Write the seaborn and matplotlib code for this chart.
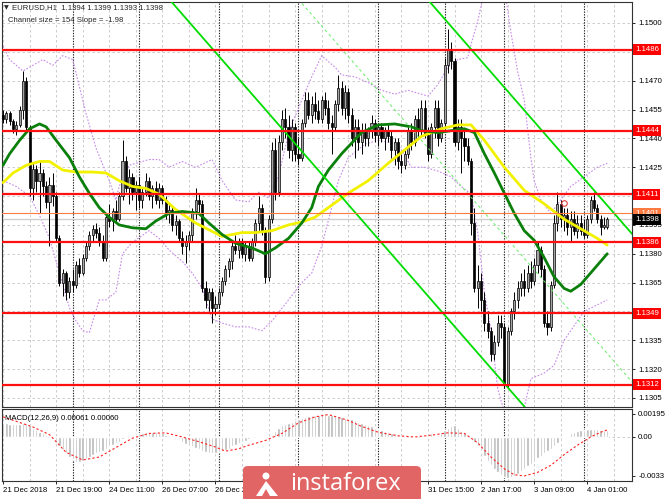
import numpy as np
import matplotlib
matplotlib.use("Agg")
import matplotlib.pyplot as plt
import matplotlib.transforms as mtransforms
from matplotlib.patches import FancyBboxPatch, Ellipse, Polygon
import seaborn as sns

# ── EURUSD H1 candles (points above 1.1300) ────────────────
BASE = 1.1300

opens = [152, 150, 153, 149, 145, 147, 155, 170, 146, 114,
         124, 118, 122, 115, 107, 116, 110, 88, 65, 70,
         60, 66, 64, 74, 70, 78, 84, 90, 93, 91,
         86, 78, 99, 97, 102, 98, 110, 128, 114, 120,
         112, 116, 108, 112, 118, 110, 114, 108, 114, 108,
         101, 103, 95, 97, 88, 84, 86, 90, 102, 108,
         106, 62, 56, 60, 52, 54, 60, 66, 72, 76,
         84, 82, 86, 80, 84, 78, 86, 96, 104, 92,
         68, 98, 134, 112, 138, 150, 146, 134, 146, 132,
         130, 148, 160, 152, 158, 154, 150, 160, 156, 148,
         146, 158, 166, 156, 164, 152, 140, 146, 138, 144,
         140, 144, 148, 142, 146, 140, 144, 141, 134, 138,
         128, 126, 132, 144, 138, 150, 144, 156, 142, 132,
         146, 156, 140, 148, 178, 186, 180, 138, 146, 140,
         136, 128, 96, 62, 66, 56, 44, 40, 28, 34,
         44, 42, 12, 40, 50, 56, 62, 66, 62, 70,
         66, 74, 82, 72, 44, 42, 64, 96, 106, 98,
         100, 94, 98, 92, 96, 92, 90, 98, 108, 104,
         98, 94, 94]
highs = [155, 154, 154, 150, 149, 157, 175, 172, 147, 127,
         126, 128, 124, 118, 120, 122, 112, 90, 72, 71,
         68, 72, 76, 78, 80, 86, 92, 95, 96, 94,
         90, 101, 106, 104, 108, 112, 139, 131, 124, 122,
         118, 120, 114, 122, 120, 116, 118, 117, 116, 110,
         106, 105, 100, 98, 92, 90, 92, 104, 114, 111,
         108, 66, 62, 62, 58, 62, 68, 74, 78, 86,
         90, 88, 88, 86, 86, 88, 98, 110, 106, 94,
         100, 138, 140, 142, 155, 156, 152, 150, 148, 140,
         150, 164, 164, 162, 164, 160, 162, 164, 160, 152,
         160, 173, 170, 168, 166, 156, 150, 150, 148, 148,
         146, 152, 150, 148, 148, 146, 148, 144, 140, 140,
         132, 134, 146, 148, 152, 156, 160, 160, 146, 148,
         160, 160, 150, 182, 197, 190, 182, 150, 150, 144,
         140, 130, 104, 74, 70, 60, 50, 42, 38, 48,
         48, 44, 42, 52, 60, 66, 70, 72, 74, 76,
         78, 86, 84, 74, 50, 66, 100, 112, 108, 104,
         104, 102, 102, 100, 100, 98, 100, 110, 112, 106,
         100, 99, 99]
lows = [148, 148, 147, 143, 142, 146, 150, 143, 110, 108,
        112, 101, 110, 104, 84, 105, 86, 63, 58, 56,
        57, 60, 62, 68, 69, 76, 82, 86, 88, 84,
        76, 76, 94, 92, 96, 97, 108, 112, 106, 108,
        103, 104, 104, 110, 108, 104, 106, 104, 106, 98,
        96, 92, 90, 86, 80, 75, 82, 86, 98, 100,
        60, 52, 50, 44, 48, 52, 58, 64, 68, 72,
        80, 78, 78, 76, 76, 76, 84, 92, 90, 65,
        66, 96, 108, 110, 134, 140, 130, 128, 128, 126,
        128, 146, 150, 148, 150, 148, 148, 152, 145, 132,
        144, 154, 152, 150, 148, 136, 130, 134, 132, 136,
        136, 140, 138, 136, 138, 134, 138, 130, 126, 124,
        122, 124, 130, 134, 136, 140, 142, 140, 128, 130,
        140, 136, 138, 146, 174, 176, 136, 134, 122, 128,
        126, 90, 60, 52, 50, 40, 36, 24, 25, 32,
        36, 10, 10, 38, 46, 52, 58, 58, 60, 62,
        64, 70, 68, 42, 38, 40, 62, 92, 94, 92,
        90, 86, 90, 88, 90, 88, 88, 96, 102, 96,
        90, 93, 93]
closes = [150, 153, 149, 145, 147, 155, 170, 146, 114, 124,
          118, 122, 115, 107, 116, 110, 88, 65, 70, 60,
          66, 64, 74, 70, 78, 84, 90, 93, 91, 86,
          78, 99, 97, 102, 98, 110, 128, 114, 120, 112,
          116, 108, 112, 118, 110, 114, 108, 114, 108, 101,
          103, 95, 97, 88, 84, 86, 90, 102, 108, 106,
          62, 56, 60, 52, 54, 60, 66, 72, 76, 84,
          82, 86, 80, 84, 78, 86, 96, 104, 92, 68,
          98, 134, 112, 138, 150, 146, 134, 146, 132, 130,
          148, 160, 152, 158, 154, 150, 160, 156, 148, 146,
          158, 166, 156, 164, 152, 140, 146, 138, 144, 140,
          144, 148, 142, 146, 140, 144, 141, 134, 138, 128,
          126, 132, 144, 138, 150, 144, 156, 142, 132, 146,
          156, 140, 148, 178, 186, 180, 138, 146, 140, 136,
          128, 96, 62, 66, 56, 44, 40, 28, 34, 44,
          42, 12, 40, 50, 56, 62, 66, 62, 70, 66,
          74, 82, 72, 44, 42, 64, 96, 106, 98, 100,
          94, 98, 92, 96, 92, 90, 98, 108, 104, 98,
          94, 95, 98]

# moving averages (bar index, points)
green_idx = [0, 2, 5, 8, 11, 13, 16, 20, 23, 26, 29, 32, 35, 39, 43, 46, 50, 54,
             59, 62, 66, 70, 75, 79, 82, 86, 90, 93, 95, 98, 102, 105, 108, 113,
             118, 123, 126, 131, 135, 139, 142, 145, 148, 151, 154, 157, 160, 163,
             166, 169, 171, 174, 177, 180, 182]
green_val = [126, 132, 139, 145, 147.5, 146, 139, 130, 120, 111.5, 104, 99, 95,
             93.5, 93, 97, 101, 102, 101, 96, 90, 85.5, 83, 80, 83, 88, 96, 104,
             115, 123.5, 132, 137.5, 143, 147, 147.5, 146, 144, 143, 144, 145, 143,
             132, 122, 111.5, 101, 92, 87, 78, 68, 62, 60.5, 64, 70, 76, 80]
yellow_idx = [0, 3, 7, 11, 14, 18, 22, 27, 31, 35, 39, 43, 47, 52, 58, 66, 72, 76,
              81, 86, 90, 94, 98, 104, 110, 116, 121, 126, 132, 137, 141, 145, 151,
              157, 163, 169, 175, 179, 182]
yellow_val = [117, 122, 126, 128, 128, 123.5, 122.5, 122.5, 122, 118, 115, 114,
              111, 103, 96, 89, 91, 91, 92, 95, 96.5, 99, 104, 111.5, 118, 127, 134,
              141, 145, 147, 147, 139, 125, 113, 106, 98, 92, 88, 84.5]

# bands (violet dotted)
upper_idx = [0, 2, 6, 9, 12, 15, 18, 21, 23, 25, 28, 32, 34, 35, 38, 44, 47, 50, 54,
             58, 63, 66, 70, 74, 77, 80, 83, 86, 90, 93, 96, 100, 102, 106, 110, 114,
             118, 122, 128, 131, 134, 137, 140, 141, 143, 146, 150, 153, 155, 157,
             159, 160, 162, 165, 168, 171, 175, 179, 182]
upper_val = [188, 181, 175, 178, 181, 178, 183, 181, 167, 153, 135, 118, 108, 115,
             126, 129, 129, 125, 128, 125, 129, 118, 108, 107, 112, 109, 120, 143,
             160, 172, 183, 177, 173, 172, 169, 165, 163, 165, 162, 168, 177, 181,
             182, 189, 201, 225, 230, 195, 175, 160, 130, 118, 108, 101, 108, 115,
             120, 125, 127]
lower_idx = [0, 4, 8, 11, 14, 17, 20, 22, 24, 26, 29, 31, 34, 36, 39, 44, 47, 50, 54,
             57, 60, 63, 66, 70, 74, 78, 81, 86, 90, 93, 96, 99, 101, 104, 109, 113,
             119, 123, 127, 131, 135, 138, 141, 143, 145, 147, 149, 153, 157, 159,
             163, 166, 169, 175, 182]
lower_val = [118, 115, 110, 100, 88, 70, 52, 45, 40, 39, 56, 56, 60, 80, 86, 92, 88,
             82, 76, 70, 62, 46, 44, 42, 42, 40, 45, 56, 65, 70, 84, 104, 118, 130,
             137, 139, 137, 125, 125, 123, 120, 115, 111, 91, 60, 40, 10, -15, 0, 15,
             18, 22, 35, 50, 56]

# horizontal levels
levels = [186, 144, 111, 86, 49, 12]
pending_level = 101
bid = 98

# regression channel: lower line anchor, slope per bar, size
ch_anchor_bar = 50
ch_anchor_pts = 212.5
ch_slope = -1.98
ch_size = 154

# MACD(12,26,9) in units of 0.0001
macd_hist = [12, 12, 11, 11, 11, 11, 12, 12, 10, 8,
             6, 4, 3, 2, 0, -2, -5, -8, -11, -14,
             -17, -19, -21, -21, -20, -19, -17, -15, -14, -13,
             -12, -10, -8, -7, -5, -4, -2, -1, 0, 1,
             2, 3, 3, 4, 4, 4, 4, 3, 3, 2,
             1, 0, -1, -2, -4, -6, -8, -8, -9, -10,
             -12, -13, -14, -14, -14, -13, -12, -11, -10, -8,
             -7, -5, -4, -3, -2, -1, 0, 0, -1, -1,
             0, 2, 5, 8, 10, 11, 12, 13, 14, 15,
             16, 17, 18, 19, 19, 19, 20, 20, 19, 19,
             18, 18, 17, 16, 15, 15, 14, 13, 12, 11,
             10, 9, 8, 7, 6, 5, 4, 3, 3, 2,
             1, 1, 0, 0, -1, 0, 0, 1, 2, 3,
             1, 2, 4, 6, 8, 9, 10, 8, 5, 3,
             1, -1, -4, -8, -12, -16, -20, -24, -27, -30,
             -32, -34, -35, -34, -33, -31, -29, -27, -25, -23,
             -21, -18, -16, -14, -12, -10, -8, -5, -3, -1,
             1, 3, 4, 5, 6, 6, 7, 7, 7, 7,
             6, 6, 6]
signal_idx = [0, 9, 14, 19, 24, 29, 34, 39, 44, 49, 54, 59, 64, 67, 71, 74, 79, 84,
              89, 94, 98, 104, 108, 113, 119, 124, 129, 134, 139, 143, 147, 151, 154,
              157, 161, 165, 169, 173, 177, 180, 182]
signal_val = [17, 8.5, 2, -13, -19.5, -17, -9, -1, 3, 3.5, 0, -4, -8.5, -12, -10, -7,
              -3, 3, 12, 17, 19, 14, 9, 4, 1, 0, 1.5, 3.5, 3, -5, -17, -27, -32, -33,
              -30, -24, -15, -7, 0, 4, 6]

# time axis (labels under the badge are not visible in the source)
date_bars = [0, 16, 32, 48, 64, 128, 144, 160, 176]
date_labels = ["21 Dec 2018", "21 Dec 19:00", "24 Dec 11:00", "26 Dec 07:00",
               "26 Dec 23:00", "31 Dec 15:00", "2 Jan 17:00", "3 Jan 09:00",
               "4 Jan 01:00"]
separators = [21, 41, 65, 89, 113, 133, 151, 175]
grid_pts = [5, 20, 35, 50, 65, 80, 95, 110, 125, 140, 155, 170, 185, 200]
hidden_ticks = [50, 110, 185]   # covered by the level boxes

# ── figure ─────────────────────────────────────────────────
sns.set_theme(style="white")
plt.rcParams["font.family"] = ["Liberation Sans", "DejaVu Sans"]

W, H = 665, 499
FS = 5.6
fig = plt.figure(figsize=(W / 100, H / 100), dpi=100, facecolor="white")
ax = fig.add_axes([2 / W, 1 - 407 / H, 630 / W, 405 / H])
axm = fig.add_axes([2 / W, 1 - 481 / H, 630 / W, 72 / H])

x = np.arange(len(closes))
o, hi, lo, c = map(np.array, (opens, highs, lows, closes))

for a in (ax, axm):
    for b in range(0, 192, 8):
        a.axvline(b, color="#c4c4c4", lw=0.6, ls=(0, (3, 3)), zorder=0)
    for b in separators:
        a.axvline(b, color="#222222", lw=0.8, ls=(0, (1.2, 1.2)), zorder=0.5)
    for s in a.spines.values():
        s.set_color("#333333")
        s.set_linewidth(0.8)

for p in grid_pts:
    ax.axhline(p, color="#c4c4c4", lw=0.6, ls=(0, (3, 3)), zorder=0)

# candles
bull = c >= o
body_lo = np.minimum(o, c)
body_h = np.maximum(np.abs(c - o), 0.5)
ax.vlines(x, lo, hi, color="black", lw=0.7, zorder=2)
ax.bar(x[bull], body_h[bull], bottom=body_lo[bull], width=0.62,
       color="#a4a4a4", edgecolor="black", linewidth=0.5, zorder=3)
ax.bar(x[~bull], body_h[~bull], bottom=body_lo[~bull], width=0.62,
       color="black", edgecolor="black", linewidth=0.5, zorder=3)

# bands + MAs
band_kw = dict(color="#c68ae8", lw=0.8, linestyle=(0, (1.5, 1.5)), errorbar=None, zorder=1)
sns.lineplot(x=upper_idx, y=upper_val, ax=ax, **band_kw)
sns.lineplot(x=lower_idx, y=lower_val, ax=ax, **band_kw)
sns.lineplot(x=yellow_idx, y=yellow_val, ax=ax, color="#f2f200", lw=2.0, errorbar=None, zorder=4)
sns.lineplot(x=green_idx, y=green_val, ax=ax, color="#0a7f0a", lw=2.0, errorbar=None, zorder=4)

# channel
ch_x = np.array([0, 192])
ch_low = ch_anchor_pts + ch_slope * (ch_x - ch_anchor_bar)
ax.plot(ch_x, ch_low, color="#00dd00", lw=1.3, zorder=5)
ax.plot(ch_x, ch_low + ch_size, color="#00dd00", lw=1.3, zorder=5)
ax.plot(ch_x, ch_low + ch_size / 2, color="#66ee66", lw=0.7, ls=(0, (3, 3)), zorder=5)

# levels
for lv in levels:
    ax.axhline(lv, color="#ff1010", lw=1.6, zorder=5)
ax.axhline(pending_level, color="#ff7a40", lw=0.8, zorder=5)
ax.axhline(bid, color="#cfcfcf", lw=1.0, zorder=1.5)
ax.plot(169, 106.4, marker="o", ms=4, mfc="none", mec="#e04040", mew=0.8, zorder=6)

ax.set_xlim(-0.3, 189.46)
ax.set_ylim(0.31, 210.92)
ax.set_xlabel("")
ax.set_ylabel("")
ax.set_xticks([])
ax.yaxis.tick_right()
ax.set_yticks(grid_pts)
ax.set_yticklabels(["" if p in hidden_ticks else f"{BASE + p / 1e4:.4f}" for p in grid_pts])
ax.tick_params(axis="y", right=True, left=False, labelright=True, labelleft=False,
               length=2.5, width=0.6, pad=2, labelsize=FS, colors="black")

trans = mtransforms.blended_transform_factory(ax.transAxes, ax.transData)
box_kw = dict(transform=trans, ha="left", va="center", fontsize=FS, clip_on=False)
for lv in levels:
    ax.text(1.005, lv, f"{BASE + lv / 1e4:.4f}", color="white", zorder=10,
            bbox=dict(boxstyle="square,pad=0.25", fc="#ff0000", ec="none"), **box_kw)
ax.text(1.005, pending_level, f"{BASE + pending_level / 1e4:.4f}", color="white", zorder=10,
        bbox=dict(boxstyle="square,pad=0.25", fc="#ff7a40", ec="none"), **box_kw)
ax.text(1.005, bid, f"{BASE + bid / 1e4:.4f}", color="white", zorder=11,
        bbox=dict(boxstyle="square,pad=0.25", fc="black", ec="none"), **box_kw)

# MACD panel
axm.bar(x, macd_hist, width=0.72, color="#b8b8b8", zorder=2)
axm.axhline(0, color="#c4c4c4", lw=0.6, ls=(0, (3, 3)), zorder=1)
sns.lineplot(x=signal_idx, y=signal_val, ax=axm, color="#ff2020", lw=0.8,
             linestyle=(0, (2, 2)), errorbar=None, zorder=3)
axm.set_xlim(-0.3, 189.46)
axm.set_ylim(-37.3, 23.7)
axm.set_xlabel("")
axm.set_ylabel("")
axm.yaxis.tick_right()
axm.set_yticks([19.5, 0, -33])
axm.set_yticklabels(["0.00195", "0.00", "-0.0033"])
axm.tick_params(axis="y", right=True, left=False, labelright=True, labelleft=False,
                length=2.5, width=0.6, pad=2, labelsize=FS, colors="black")
axm.set_xticks(date_bars)
axm.set_xticklabels(date_labels, ha="left")
axm.tick_params(axis="x", bottom=True, length=2.5, width=0.6, pad=2, labelsize=FS, colors="black")
axm.text(0.005, 0.875, "MACD(12,26,9) 0.00061 0.00060", transform=axm.transAxes,
         fontsize=FS, va="center", ha="left", color="black")

# header
fig.text(4 / W, 1 - 8 / H, "\u25BC", fontsize=4.5, va="center", family=["DejaVu Sans"])
fig.text(12 / W, 1 - 8 / H, "EURUSD,H1  1.1394 1.1399 1.1393 1.1398", fontsize=FS, va="center")
fig.text(8 / W, 1 - 20 / H, "Channel size = 154 Slope = -1.98", fontsize=FS, va="center")

# instaforex badge
badge = FancyBboxPatch((243 / W, -0.02), 178 / W, 33 / H + 0.02,
                       boxstyle="round,pad=0,rounding_size=0.008",
                       transform=fig.transFigure, fc="#e26565", ec="none", zorder=20)
fig.patches.append(badge)
fig.patches.append(Ellipse((266 / W, 1 - 476 / H), 7 / W, 7 / H, transform=fig.transFigure,
                           fc="white", ec="none", zorder=21))
fig.patches.append(Polygon([(256 / W, 1 - 496 / H), (266 / W, 1 - 481 / H),
                            (278 / W, 1 - 496 / H), (270 / W, 1 - 496 / H),
                            (266 / W, 1 - 489 / H), (262 / W, 1 - 496 / H)],
                           closed=True, transform=fig.transFigure, fc="white", ec="none", zorder=21))
fig.text(290 / W, 1 - 484 / H, "instaforex", color="white", fontsize=17, va="center",
         ha="left", family=["Open Sans", "DejaVu Sans"], zorder=22)

fig.savefig("out.png", dpi=100, facecolor="white")
